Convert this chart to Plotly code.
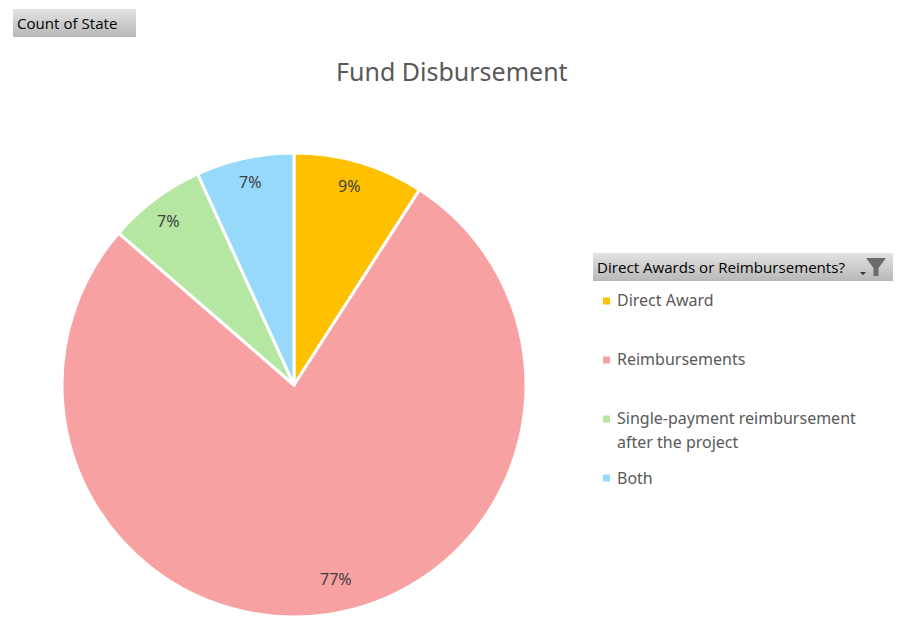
import plotly.graph_objects as go

categories = ["Direct Award", "Reimbursements", "Single-payment reimbursement<br>after the project", "Both"]
counts = [4, 34, 3, 3]
percent_labels = ["9%", "77%", "7%", "7%"]
colors = ["#FFC000", "#F7A1A3", "#B5E6A2", "#97D9FA"]
title_text = "Fund Disbursement"
field_button = "Count of State"
legend_button = "Direct Awards or Reimbursements?"

W, H = 901, 639
GREY = "#595959"
def px(x): return x / W
def py(y): return 1 - y / H

fig = go.Figure(go.Pie(
    labels=[c.replace("<br>", " ") for c in categories], values=counts, sort=False, direction="clockwise", rotation=0,
    marker=dict(colors=colors, line=dict(color="white", width=3)),
    textinfo="none", hoverinfo="label+percent", showlegend=False,
    domain=dict(x=[px(62), px(526)], y=[py(617), py(153)]),
))

shapes, ann = [], []

def gradient_box(x0, y0, x1, y1):
    n = y1 - y0
    for i in range(n):
        t = i / max(n - 1, 1)
        v = round(226 + (184 - 226) * t)
        shapes.append(dict(type="rect", xref="paper", yref="paper", x0=px(x0), x1=px(x1),
                           y0=py(y0 + i), y1=py(y0 + i + 1), line_width=0,
                           fillcolor=f"rgb({v},{v},{v})", layer="below"))

def text(x, y, s, size, color=GREY, anchor="left", font="Noto Sans"):
    ann.append(dict(xref="paper", yref="paper", x=px(x), y=py(y), text=s, showarrow=False,
                    xanchor=anchor, yanchor="middle", align="left", borderpad=0, borderwidth=0,
                    font=dict(size=size, color=color, family=font)))

gradient_box(13, 9, 136, 37)
gradient_box(593, 253, 893, 281)
text(17, 23, field_button, 15.1, "#000000", font="Open Sans")
text(597, 267, legend_button, 15.1, "#000000", font="Open Sans")
text(452, 71.5, title_text, 25, GREY, "center")

# filter icon and drop arrow
shapes.append(dict(type="path", xref="paper", yref="paper", line_width=0, fillcolor="#6b6b6b",
    path=f"M {px(866)} {py(258)} L {px(886)} {py(258)} L {px(878.5)} {py(268)} L {px(878.5)} {py(276)} "
         f"L {px(873.5)} {py(276)} L {px(873.5)} {py(268)} Z"))
shapes.append(dict(type="path", xref="paper", yref="paper", line_width=0, fillcolor="#333333",
    path=f"M {px(860)} {py(272)} L {px(866)} {py(272)} L {px(863)} {py(275)} Z"))

# legend
key_y = [301, 360, 419, 478]
label_y = [[300], [359], [418, 442], [478]]
for c, col, ky, ys in zip(categories, colors, key_y, label_y):
    shapes.append(dict(type="rect", xref="paper", yref="paper", x0=px(603), x1=px(610),
                       y0=py(ky - 3.5), y1=py(ky + 3.5), line_width=0, fillcolor=col))
    for line, ly in zip(c.split("<br>"), ys):
        text(617, ly, line, 16)

# slice labels
label_pos = [(349, 186), (336, 579), (168, 221), (250, 182)]
for s, (x, y) in zip(percent_labels, label_pos):
    text(x, y, s, 16, "#404040", "center")

fig.update_layout(width=W, height=H, margin=dict(l=0, r=0, t=0, b=0), paper_bgcolor="white",
                  shapes=shapes, annotations=ann)
fig.write_html("out.html", config=dict(displayModeBar=False),
               post_script="document.body.style.margin='0';document.body.style.overflow='hidden';")
